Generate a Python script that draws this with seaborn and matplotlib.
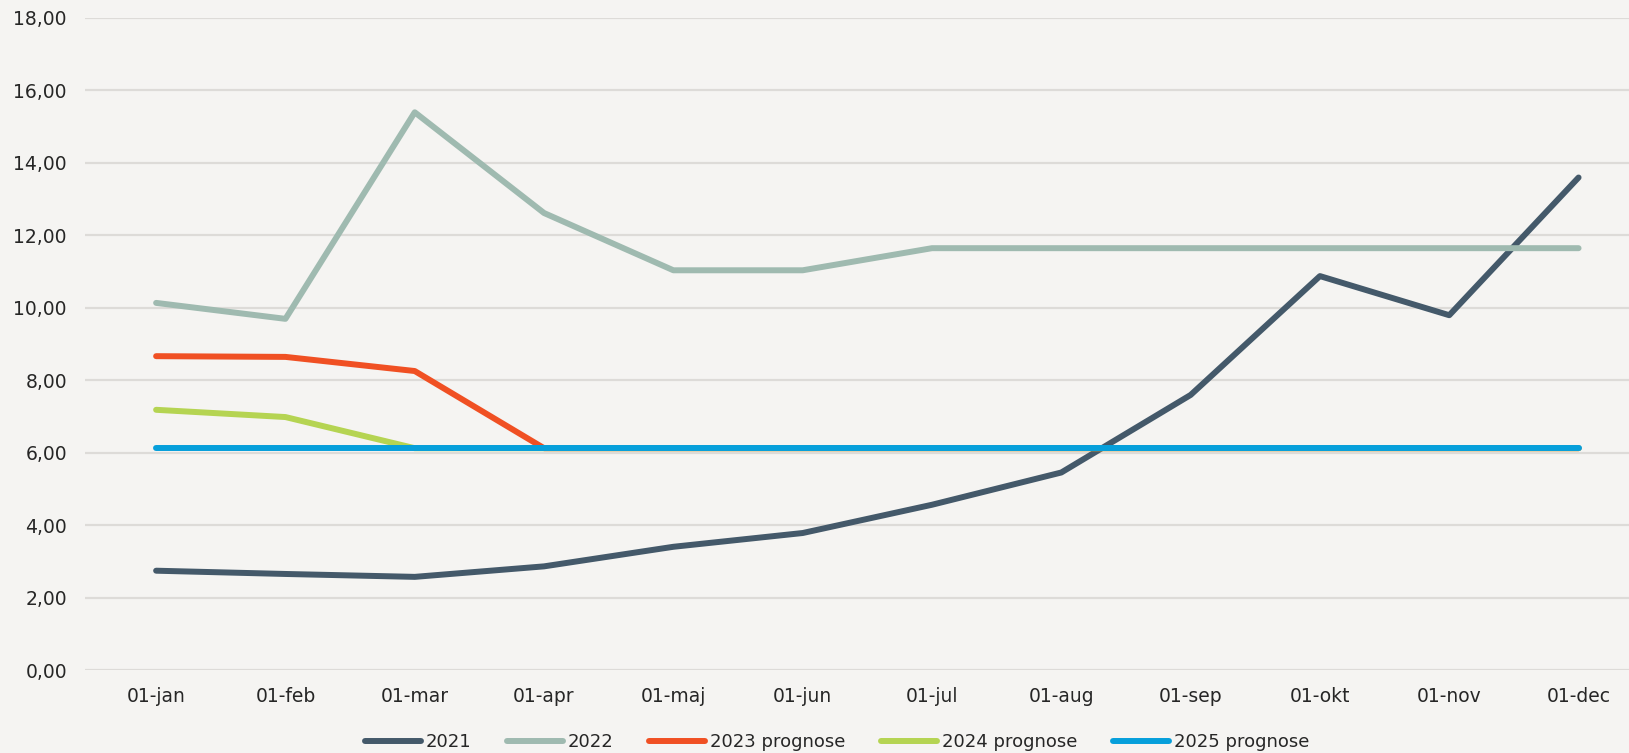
import pandas as pd
import matplotlib
matplotlib.use("Agg")
import matplotlib.pyplot as plt
import seaborn as sns
from matplotlib.ticker import FuncFormatter

months = ["01-jan", "01-feb", "01-mar", "01-apr", "01-maj", "01-jun",
          "01-jul", "01-aug", "01-sep", "01-okt", "01-nov", "01-dec"]

v2021 = [2.74, 2.65, 2.57, 2.86, 3.40, 3.78, 4.56, 5.45, 7.59, 10.87, 9.79, 13.59]
v2022 = [10.13, 9.69, 15.39, 12.61, 11.03, 11.03, 11.64, 11.64, 11.64, 11.64, 11.64, 11.64]
v2023 = [8.66, 8.64, 8.25, 6.12, 6.12, 6.12, 6.12, 6.12, 6.12, 6.12, 6.12, 6.12]
v2024 = [7.18, 6.98, 6.12, 6.12, 6.12, 6.12, 6.12, 6.12, 6.12, 6.12, 6.12, 6.12]
v2025 = [6.12] * 12

series = ["2021", "2022", "2023 prognose", "2024 prognose", "2025 prognose"]
colors = ["#44596a", "#9fbab0", "#f05023", "#b5d452", "#069fdb"]

frames = []
for name, vals in zip(series, [v2021, v2022, v2023, v2024, v2025]):
    frames.append(pd.DataFrame({"pos": range(len(months)), "value": vals, "serie": name}))
df = pd.concat(frames, ignore_index=True)

bg = "#f5f4f2"
sns.set_theme(style="white")
plt.rcParams["font.family"] = ["DejaVu Sans"]

fig = plt.figure(figsize=(16.29, 7.53), dpi=100, facecolor=bg)
ax = fig.add_axes([85 / 1629, 1 - 670 / 753, 1 - 85 / 1629, (670 - 17.7) / 753])
ax.set_facecolor(bg)

sns.lineplot(data=df, x="pos", y="value", hue="serie", hue_order=series,
             palette=colors, linewidth=4.3, sort=False, ax=ax,
             solid_capstyle="round", zorder=3)

ax.set_xlim(-0.55, 11.39)
ax.set_ylim(0, 18)
ax.set_yticks(range(0, 19, 2))
ax.yaxis.set_major_formatter(FuncFormatter(lambda v, p: f"{v:.2f}".replace(".", ",")))
ax.set_xticks(range(len(months)))
ax.set_xticklabels(months)
ax.tick_params(axis="both", length=0, labelsize=13.5, colors="#262626")
ax.tick_params(axis="y", pad=13)
ax.tick_params(axis="x", pad=12)
ax.grid(axis="y", color="#dddbd8", linewidth=1.6, zorder=0)
ax.grid(axis="x", visible=False)
for s in ax.spines.values():
    s.set_visible(False)
ax.set_xlabel("")
ax.set_ylabel("")

ax.legend(loc="center", bbox_to_anchor=(837 / 1629, 1 - 742 / 753),
          bbox_transform=fig.transFigure, ncol=5, frameon=False,
          fontsize=13, handlelength=3.1, handletextpad=0.25,
          columnspacing=2.0, labelcolor="#262626")

fig.savefig("out.png", dpi=100, facecolor=bg)
